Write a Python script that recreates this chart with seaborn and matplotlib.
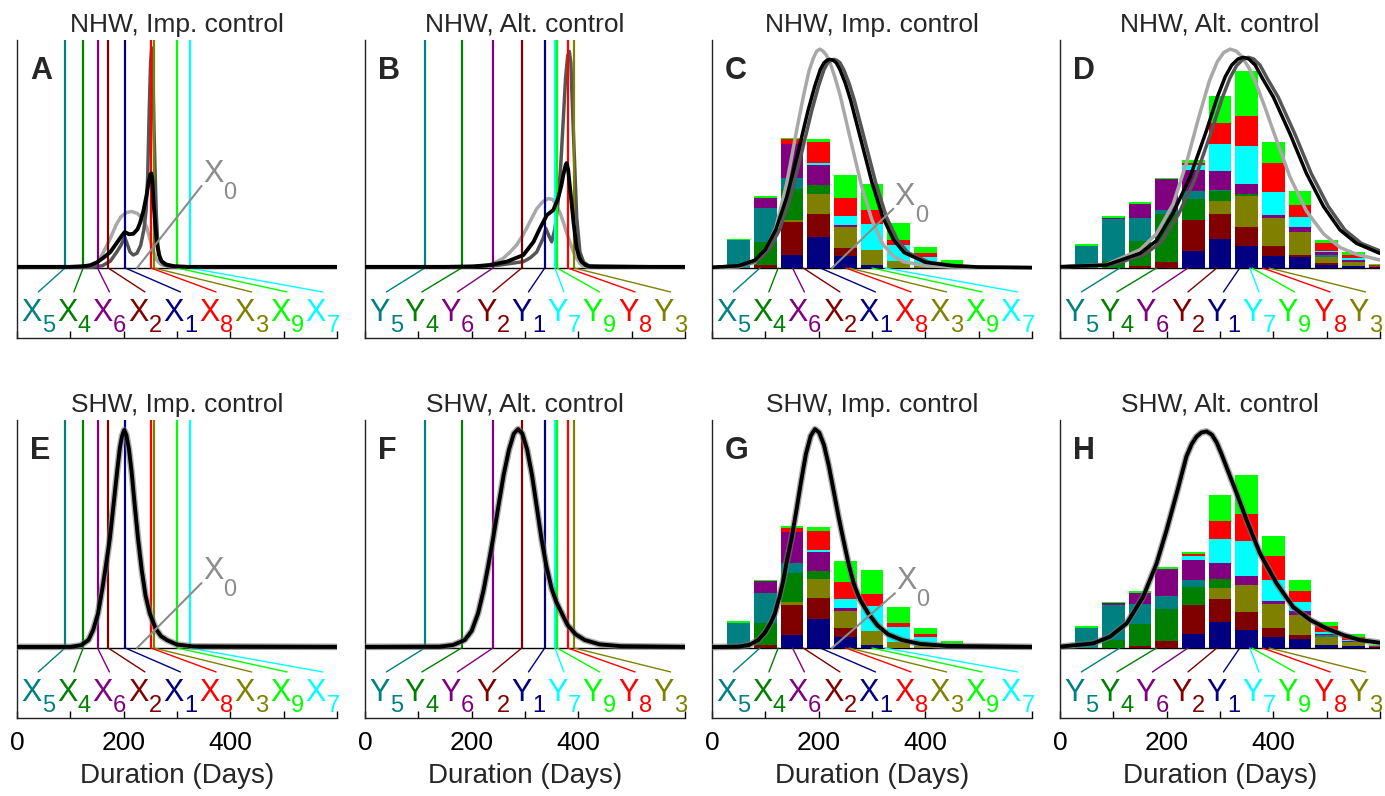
import numpy as np
import matplotlib
matplotlib.use("Agg")
import matplotlib.pyplot as plt
import seaborn as sns

sns.set_theme(style="white")
plt.rcParams["font.family"] = ["Liberation Sans", "DejaVu Sans"]

# ---------------- data ----------------
COMPONENT_COLORS = ["#000080", "#800000", "#808000", "#008000", "#008080",
                    "#800080", "#00FFFF", "#FF0000", "#00FF00"]
# thresholds for components 1..9 (days)
X_THRESHOLDS = [203, 171, 257, 124, 90, 151, 324, 251, 300]
Y_THRESHOLDS = [337, 294, 392, 181, 112, 240, 356, 380, 360]

BIN_CENTERS = [50, 100, 150, 200, 250, 300, 350, 400, 450, 500, 550, 600]

# stacked histogram components (1..9)
C_BARS = [
    [0, 0, 0.058, 0.136, 0.051, 0.015, 0, 0, 0, 0, 0, 0],
    [0, 0.015, 0.142, 0.100, 0.037, 0, 0, 0, 0, 0, 0, 0],
    [0, 0, 0.009, 0.088, 0.091, 0.063, 0.029, 0.010, 0, 0, 0, 0],
    [0, 0.100, 0.139, 0.038, 0, 0, 0, 0, 0, 0, 0, 0],
    [0.121, 0.146, 0.047, 0, 0, 0, 0, 0, 0, 0, 0, 0],
    [0, 0.048, 0.150, 0.091, 0.010, 0, 0, 0, 0, 0, 0, 0],
    [0, 0, 0, 0.007, 0.041, 0.117, 0.073, 0.038, 0.012, 0, 0, 0],
    [0, 0, 0.019, 0.092, 0.077, 0.061, 0.019, 0.018, 0.004, 0, 0, 0],
    [0.006, 0.006, 0.007, 0.013, 0.102, 0.113, 0.076, 0.025, 0.019, 0.003, 0, 0],
]
G_BARS = [
    [0, 0, 0.058, 0.127, 0.048, 0.015, 0, 0, 0, 0, 0, 0],
    [0, 0.015, 0.132, 0.092, 0.040, 0, 0, 0, 0, 0, 0, 0],
    [0, 0, 0.010, 0.083, 0.073, 0.058, 0.025, 0.010, 0, 0, 0, 0],
    [0, 0.095, 0.129, 0.037, 0, 0, 0, 0, 0, 0, 0, 0],
    [0.111, 0.132, 0.044, 0, 0, 0, 0, 0, 0, 0, 0, 0],
    [0, 0.051, 0.134, 0.080, 0.015, 0, 0, 0, 0, 0, 0, 0],
    [0, 0, 0, 0.012, 0.039, 0.110, 0.067, 0.037, 0.010, 0, 0, 0],
    [0, 0, 0.019, 0.083, 0.073, 0.056, 0.018, 0.016, 0.009, 0, 0, 0],
    [0.007, 0.007, 0.007, 0.016, 0.092, 0.105, 0.070, 0.025, 0.013, 0.004, 0, 0],
]
D_BARS = [
    [0, 0, 0, 0, 0.073, 0.127, 0.095, 0.054, 0.048, 0.015, 0.008, 0.006],
    [0, 0, 0.010, 0.028, 0.136, 0.110, 0.083, 0.041, 0.010, 0.005, 0, 0],
    [0, 0, 0, 0, 0, 0.056, 0.136, 0.124, 0.102, 0.030, 0.020, 0],
    [0, 0.030, 0.107, 0.210, 0.094, 0.044, 0.010, 0, 0, 0, 0, 0],
    [0.097, 0.183, 0.102, 0.015, 0.034, 0.005, 0, 0, 0, 0.008, 0, 0],
    [0, 0.007, 0.063, 0.137, 0.095, 0.083, 0.044, 0.012, 0.018, 0.010, 0.008, 0],
    [0, 0, 0, 0, 0.018, 0.121, 0.168, 0.101, 0.044, 0.008, 0.008, 0],
    [0, 0, 0, 0, 0.012, 0.092, 0.132, 0.129, 0.056, 0.032, 0.015, 0.006],
    [0.007, 0.006, 0.006, 0.005, 0.012, 0.117, 0.194, 0.092, 0.058, 0.015, 0.010, 0.006],
]
H_BARS = [
    [0, 0, 0, 0, 0.063, 0.113, 0.080, 0.047, 0.039, 0.015, 0.007, 0.005],
    [0, 0, 0.007, 0.029, 0.127, 0.102, 0.080, 0.041, 0.019, 0, 0, 0],
    [0, 0, 0, 0, 0, 0.048, 0.117, 0.107, 0.088, 0.034, 0.018, 0],
    [0, 0.035, 0.100, 0.142, 0.076, 0.039, 0, 0, 0, 0, 0, 0],
    [0.088, 0.155, 0.085, 0.056, 0.034, 0, 0, 0, 0, 0.006, 0, 0],
    [0, 0.006, 0.051, 0.120, 0.088, 0.070, 0.037, 0.010, 0.015, 0.008, 0.006, 0],
    [0, 0, 0, 0, 0.015, 0.105, 0.156, 0.095, 0.039, 0.006, 0.006, 0],
    [0, 0, 0, 0, 0.010, 0.082, 0.117, 0.105, 0.048, 0.029, 0.012, 0.005],
    [0.007, 0.006, 0.007, 0.007, 0.009, 0.110, 0.170, 0.088, 0.051, 0.015, 0.011, 0.005],
]

# density curves (days, relative height)
A_LGRAY_X = [0, 140, 150, 160, 174, 186, 195, 205, 215, 225, 235, 243, 250, 256, 262, 270, 285, 310, 600]
A_LGRAY_Y = [0.003, 0.005, 0.02, 0.06, 0.125, 0.19, 0.225, 0.243, 0.248, 0.24, 0.22, 0.18, 0.12, 0.07, 0.035, 0.015, 0.006, 0.003, 0.003]
A_DGRAY_X = [0, 140, 160, 175, 187, 195, 202, 206, 212, 218, 225, 232, 238, 242, 245, 248, 250.5, 252.5, 254.5, 257, 259, 261, 264, 268, 275, 290, 600]
A_DGRAY_Y = [0.003, 0.003, 0.01, 0.03, 0.07, 0.1, 0.135, 0.11, 0.07, 0.057, 0.065, 0.1, 0.17, 0.25, 0.4, 0.7, 0.9, 0.965, 0.88, 0.6, 0.42, 0.25, 0.1, 0.04, 0.015, 0.005, 0.003]
A_BLACK_X = [0, 100, 125, 137, 150, 162, 175, 187, 196, 202, 210, 218, 226, 231, 237, 243, 247, 250, 252, 254, 256, 259, 262, 266, 271, 280, 295, 320, 600]
A_BLACK_Y = [0.005, 0.005, 0.008, 0.012, 0.025, 0.045, 0.07, 0.11, 0.14, 0.158, 0.148, 0.15, 0.17, 0.2, 0.25, 0.32, 0.38, 0.41, 0.415, 0.38, 0.29, 0.2, 0.115, 0.06, 0.03, 0.015, 0.008, 0.005, 0.005]

B_LGRAY_X = [0, 180, 210, 234, 259, 272, 284, 295, 303, 313, 322, 333, 344, 352, 359, 366, 372, 378, 384, 390, 397, 403, 409, 420, 600]
B_LGRAY_Y = [0.003, 0.005, 0.008, 0.013, 0.042, 0.07, 0.1, 0.14, 0.174, 0.22, 0.26, 0.29, 0.305, 0.3, 0.276, 0.24, 0.2, 0.155, 0.115, 0.075, 0.042, 0.02, 0.008, 0.004, 0.003]
B_DGRAY_X = [0, 200, 250, 297, 310, 322, 334, 339, 345, 350, 356, 362, 367, 372, 376, 380, 383, 386, 389, 391, 394, 397, 403, 410, 420, 600]
B_DGRAY_Y = [0.003, 0.005, 0.012, 0.028, 0.045, 0.07, 0.13, 0.174, 0.14, 0.115, 0.17, 0.29, 0.45, 0.66, 0.83, 0.93, 0.95, 0.9, 0.7, 0.58, 0.4, 0.22, 0.07, 0.025, 0.01, 0.003]
B_BLACK_X = [0, 150, 203, 234, 266, 297, 316, 328, 341, 353, 362, 368, 372, 376, 378, 381, 384, 388, 391, 397, 402, 406, 414, 422, 440, 600]
B_BLACK_Y = [0.005, 0.005, 0.007, 0.013, 0.028, 0.057, 0.115, 0.174, 0.232, 0.254, 0.305, 0.36, 0.41, 0.45, 0.46, 0.43, 0.36, 0.27, 0.2, 0.086, 0.045, 0.028, 0.012, 0.006, 0.005, 0.005]

C_LGRAY_X = [0, 50, 80, 100, 120, 140, 160, 172, 182, 190, 196, 202, 208, 214, 220, 230, 240, 260, 280, 300, 320, 340, 360, 400, 450, 600]
C_LGRAY_Y = [0.002, 0.005, 0.024, 0.074, 0.18, 0.37, 0.62, 0.76, 0.865, 0.92, 0.95, 0.96, 0.952, 0.935, 0.91, 0.84, 0.76, 0.56, 0.364, 0.21, 0.105, 0.052, 0.027, 0.01, 0.004, 0.001]
C_BLACK_X = [0, 50, 80, 100, 120, 140, 160, 180, 193, 203, 210, 216, 221, 227, 233, 240, 250, 260, 280, 300, 320, 340, 360, 400, 450, 500, 600]
C_BLACK_Y = [0.003, 0.01, 0.034, 0.081, 0.17, 0.31, 0.495, 0.69, 0.8, 0.87, 0.9, 0.912, 0.915, 0.911, 0.9, 0.87, 0.81, 0.735, 0.555, 0.374, 0.224, 0.125, 0.068, 0.025, 0.01, 0.004, 0.002]
C_DGRAY_X = [0, 57, 87, 107, 127, 147, 167, 187, 200, 210, 217, 223, 228, 234, 240, 247, 257, 267, 287, 307, 327, 347, 367, 407, 457, 507, 600]
C_DGRAY_Y = [0.003, 0.01, 0.034, 0.081, 0.17, 0.31, 0.495, 0.69, 0.8, 0.87, 0.9, 0.912, 0.915, 0.911, 0.9, 0.87, 0.81, 0.735, 0.555, 0.374, 0.224, 0.125, 0.068, 0.025, 0.01, 0.004, 0.002]

D_LGRAY_X = [0, 87, 150, 181, 212, 237, 260, 280, 295, 307, 319, 330, 340, 355, 369, 385, 400, 431, 462, 494, 525, 556, 600]
D_LGRAY_Y = [0.005, 0.015, 0.08, 0.15, 0.28, 0.46, 0.66, 0.82, 0.905, 0.945, 0.96, 0.952, 0.93, 0.875, 0.8, 0.7, 0.6, 0.4, 0.25, 0.15, 0.09, 0.06, 0.035]
D_BLACK_X = [0, 87, 150, 181, 212, 244, 275, 295, 310, 322, 334, 344, 354, 366, 380, 400, 431, 462, 494, 525, 556, 600]
D_BLACK_Y = [0.006, 0.013, 0.064, 0.12, 0.24, 0.40, 0.605, 0.75, 0.84, 0.89, 0.917, 0.924, 0.917, 0.89, 0.83, 0.75, 0.59, 0.415, 0.27, 0.167, 0.108, 0.064]
D_DGRAY_X = [0, 96, 159, 190, 221, 253, 284, 304, 319, 331, 343, 353, 363, 375, 389, 409, 440, 471, 503, 534, 565, 600]
D_DGRAY_Y = [0.005, 0.012, 0.06, 0.115, 0.23, 0.39, 0.6, 0.745, 0.835, 0.887, 0.915, 0.924, 0.917, 0.89, 0.83, 0.75, 0.59, 0.415, 0.27, 0.167, 0.108, 0.075]

E_X = [0, 100, 120, 134, 143, 152, 160, 166, 174, 182, 188, 193, 197, 201, 205, 210, 215, 221, 227, 234, 241, 249, 260, 270, 281, 300, 330, 600]
E_Y = [0.005, 0.005, 0.012, 0.035, 0.08, 0.152, 0.26, 0.35, 0.478, 0.65, 0.78, 0.88, 0.93, 0.956, 0.935, 0.87, 0.77, 0.62, 0.478, 0.34, 0.23, 0.152, 0.085, 0.052, 0.035, 0.015, 0.007, 0.005]
F_X = [0, 140, 165, 187, 200, 212, 222, 231, 240, 250, 260, 270, 279, 287, 295, 304, 313, 322, 331, 340, 350, 359, 369, 380, 395, 412, 440, 480, 600]
F_Y = [0.005, 0.006, 0.013, 0.035, 0.075, 0.152, 0.25, 0.36, 0.478, 0.62, 0.76, 0.87, 0.94, 0.96, 0.94, 0.87, 0.76, 0.62, 0.478, 0.36, 0.26, 0.2, 0.152, 0.1, 0.06, 0.035, 0.016, 0.008, 0.005]
G_X = [0, 50, 70, 87, 100, 110, 118, 126, 134, 141, 149, 158, 167, 176, 185, 193, 201, 210, 219, 228, 237, 246, 256, 266, 278, 293, 310, 330, 356, 390, 440, 600]
G_Y = [0.004, 0.006, 0.014, 0.035, 0.07, 0.11, 0.152, 0.22, 0.3, 0.39, 0.478, 0.6, 0.73, 0.85, 0.93, 0.96, 0.945, 0.89, 0.8, 0.69, 0.58, 0.478, 0.37, 0.28, 0.21, 0.152, 0.1, 0.06, 0.035, 0.018, 0.009, 0.005]
H_X = [0, 62, 94, 125, 156, 181, 200, 219, 237, 247, 256, 265, 275, 285, 294, 303, 312, 331, 350, 375, 406, 437, 469, 500, 531, 562, 600]
H_Y = [0.006, 0.02, 0.05, 0.108, 0.225, 0.37, 0.518, 0.68, 0.84, 0.895, 0.927, 0.945, 0.95, 0.935, 0.9, 0.85, 0.795, 0.68, 0.56, 0.415, 0.284, 0.18, 0.123, 0.086, 0.057, 0.035, 0.023]

# X0 pointer end (days, height) for the X panels
X0_START = 225
A_X0 = (346, 0.36)
C_X0 = (340, 0.26)
E_X0 = (346, 0.285)
G_X0 = (343, 0.24)

TITLES = ["NHW, Imp. control", "NHW, Alt. control", "NHW, Imp. control", "NHW, Alt. control",
          "SHW, Imp. control", "SHW, Alt. control", "SHW, Imp. control", "SHW, Alt. control"]
LETTERS = ["A", "B", "C", "D", "E", "F", "G", "H"]
TICK_VALUES = [0, 100, 200, 300, 400, 500, 600]
TICK_LABELS = ["0", "", "200", "", "400", "", ""]

LGRAY, DGRAY, BLACK = "#a8a8a8", "#555555", "#000000"
X0_COLOR = "#8c8c8c"

# ---------------- figure ----------------
W, H = 1385, 796
fig = plt.figure(figsize=(W / 100, H / 100), dpi=100)
LEFTS = [17, 365, 712, 1060]
BOTTOMS = [338, 718]
AX_W, AX_H = 320, 298
YMIN, YMAX = -0.307, 1.0
LEADER_Y = -0.105
LABEL_Y = -0.13
LABEL_XS = np.linspace(40, 573, 9)


def sub_label(ax, x, y, letter, digit, color, va="top", ha_shift=2.4):
    """Letter with a large, low subscript digit, group centred on x."""
    ax.annotate(letter, xy=(x, y), xytext=(ha_shift, 0), textcoords="offset points",
                color=color, fontsize=22, ha="right", va=va, annotation_clip=False)
    ax.annotate(digit, xy=(x, y), xytext=(ha_shift + 0.3, -12.5), textcoords="offset points",
                color=color, fontsize=17, ha="left", va=va, annotation_clip=False)


def draw_panel(ax, idx, prefix, thresholds, curves, bars, vlines, x0, bottom_row, halo=False):
    ax.set_xlim(0, 600)
    ax.set_ylim(YMIN, YMAX)
    ax.axhline(0, color="black", lw=1.0, zorder=1)
    if bars is not None:
        base = np.zeros(len(BIN_CENTERS))
        for k in range(9):
            vals = np.array(bars[k], dtype=float)
            ax.bar(BIN_CENTERS, vals, width=42, bottom=base, color=COMPONENT_COLORS[k],
                   linewidth=0, zorder=1.5)
            base += vals
    for (cx, cy, col, lw) in curves:
        if col != BLACK:
            sns.lineplot(x=cx, y=cy, ax=ax, color=col, linewidth=lw, sort=False,
                         estimator=None, zorder=2, solid_joinstyle="round")
    if vlines:
        for k in range(9):
            ax.plot([thresholds[k], thresholds[k]], [0, YMAX], color=COMPONENT_COLORS[k],
                    lw=1.6, zorder=2.5, solid_capstyle="butt")
    for (cx, cy, col, lw) in curves:
        if col == BLACK:
            if halo:
                sns.lineplot(x=cx, y=cy, ax=ax, color="#777777", linewidth=lw + 2.0,
                             sort=False, estimator=None, zorder=2.8, alpha=0.6,
                             solid_joinstyle="round")
            sns.lineplot(x=cx, y=cy, ax=ax, color=col, linewidth=lw, sort=False,
                         estimator=None, zorder=3, solid_joinstyle="round")
    order = np.argsort(thresholds)
    for pos, k in enumerate(order):
        c = COMPONENT_COLORS[k]
        lx = LABEL_XS[pos]
        ax.plot([thresholds[k], lx], [0, LEADER_Y], color=c, lw=1.0, zorder=2.6)
        sub_label(ax, lx, LABEL_Y, prefix, str(k + 1), c)
    if x0 is not None:
        ex, ey = x0
        ax.plot([X0_START, ex], [0, ey], color=X0_COLOR, lw=1.5, zorder=3.2)
        ax.annotate("X", xy=(ex, ey), xytext=(1, -2), textcoords="offset points",
                    color=X0_COLOR, fontsize=22, ha="left", va="bottom", zorder=4)
        ax.annotate("0", xy=(ex, ey), xytext=(15.5, -13), textcoords="offset points",
                    color=X0_COLOR, fontsize=17, ha="left", va="bottom", zorder=4)
    ax.text(0.04, 0.895, LETTERS[idx], transform=ax.transAxes, fontsize=22,
            fontweight="bold", ha="left", va="center")
    ax.set_title(TITLES[idx], fontsize=19, pad=6)
    sns.despine(ax=ax)
    for s in ("left", "bottom"):
        ax.spines[s].set_color("#222222")
        ax.spines[s].set_linewidth(1.0)
    ax.set_yticks([])
    ax.set_xticks(TICK_VALUES)
    ax.tick_params(axis="x", direction="in", length=5, width=1, bottom=True,
                   labelsize=19, pad=9, colors="black")
    if bottom_row:
        ax.set_xticklabels(TICK_LABELS)
        ax.set_xlabel("Duration (Days)", fontsize=20, labelpad=6)
    else:
        ax.set_xticklabels([])
        ax.set_xlabel("")
    ax.set_ylabel("")


panels = [
    ("X", X_THRESHOLDS, [(A_LGRAY_X, A_LGRAY_Y, LGRAY, 2.5), (A_DGRAY_X, A_DGRAY_Y, DGRAY, 2.5),
                         (A_BLACK_X, A_BLACK_Y, BLACK, 2.8)], None, True, A_X0, False),
    ("Y", Y_THRESHOLDS, [(B_LGRAY_X, B_LGRAY_Y, LGRAY, 2.5), (B_DGRAY_X, B_DGRAY_Y, DGRAY, 2.5),
                         (B_BLACK_X, B_BLACK_Y, BLACK, 2.8)], None, True, None, False),
    ("X", X_THRESHOLDS, [(C_LGRAY_X, C_LGRAY_Y, LGRAY, 2.5), (C_DGRAY_X, C_DGRAY_Y, DGRAY, 2.5),
                         (C_BLACK_X, C_BLACK_Y, BLACK, 2.5)], C_BARS, False, C_X0, False),
    ("Y", Y_THRESHOLDS, [(D_LGRAY_X, D_LGRAY_Y, LGRAY, 2.5), (D_DGRAY_X, D_DGRAY_Y, DGRAY, 2.5),
                         (D_BLACK_X, D_BLACK_Y, BLACK, 2.5)], D_BARS, False, None, False),
    ("X", X_THRESHOLDS, [(E_X, E_Y, BLACK, 2.8)], None, True, E_X0, True),
    ("Y", Y_THRESHOLDS, [(F_X, F_Y, BLACK, 2.8)], None, True, None, True),
    ("X", X_THRESHOLDS, [(G_X, G_Y, BLACK, 2.8)], G_BARS, False, G_X0, True),
    ("Y", Y_THRESHOLDS, [(H_X, H_Y, BLACK, 2.8)], H_BARS, False, None, True),
]

for i, (prefix, thr, curves, bars, vl, x0, bottom_row) in enumerate(panels):
    row, col = divmod(i, 4)
    left = LEFTS[col] / W
    bottom = (H - BOTTOMS[row]) / H
    ax = fig.add_axes([left, bottom, AX_W / W, AX_H / H])
    draw_panel(ax, i, prefix, thr, curves, bars, vl, x0, bottom_row, halo=bottom_row)

fig.savefig("out.png", dpi=100)
